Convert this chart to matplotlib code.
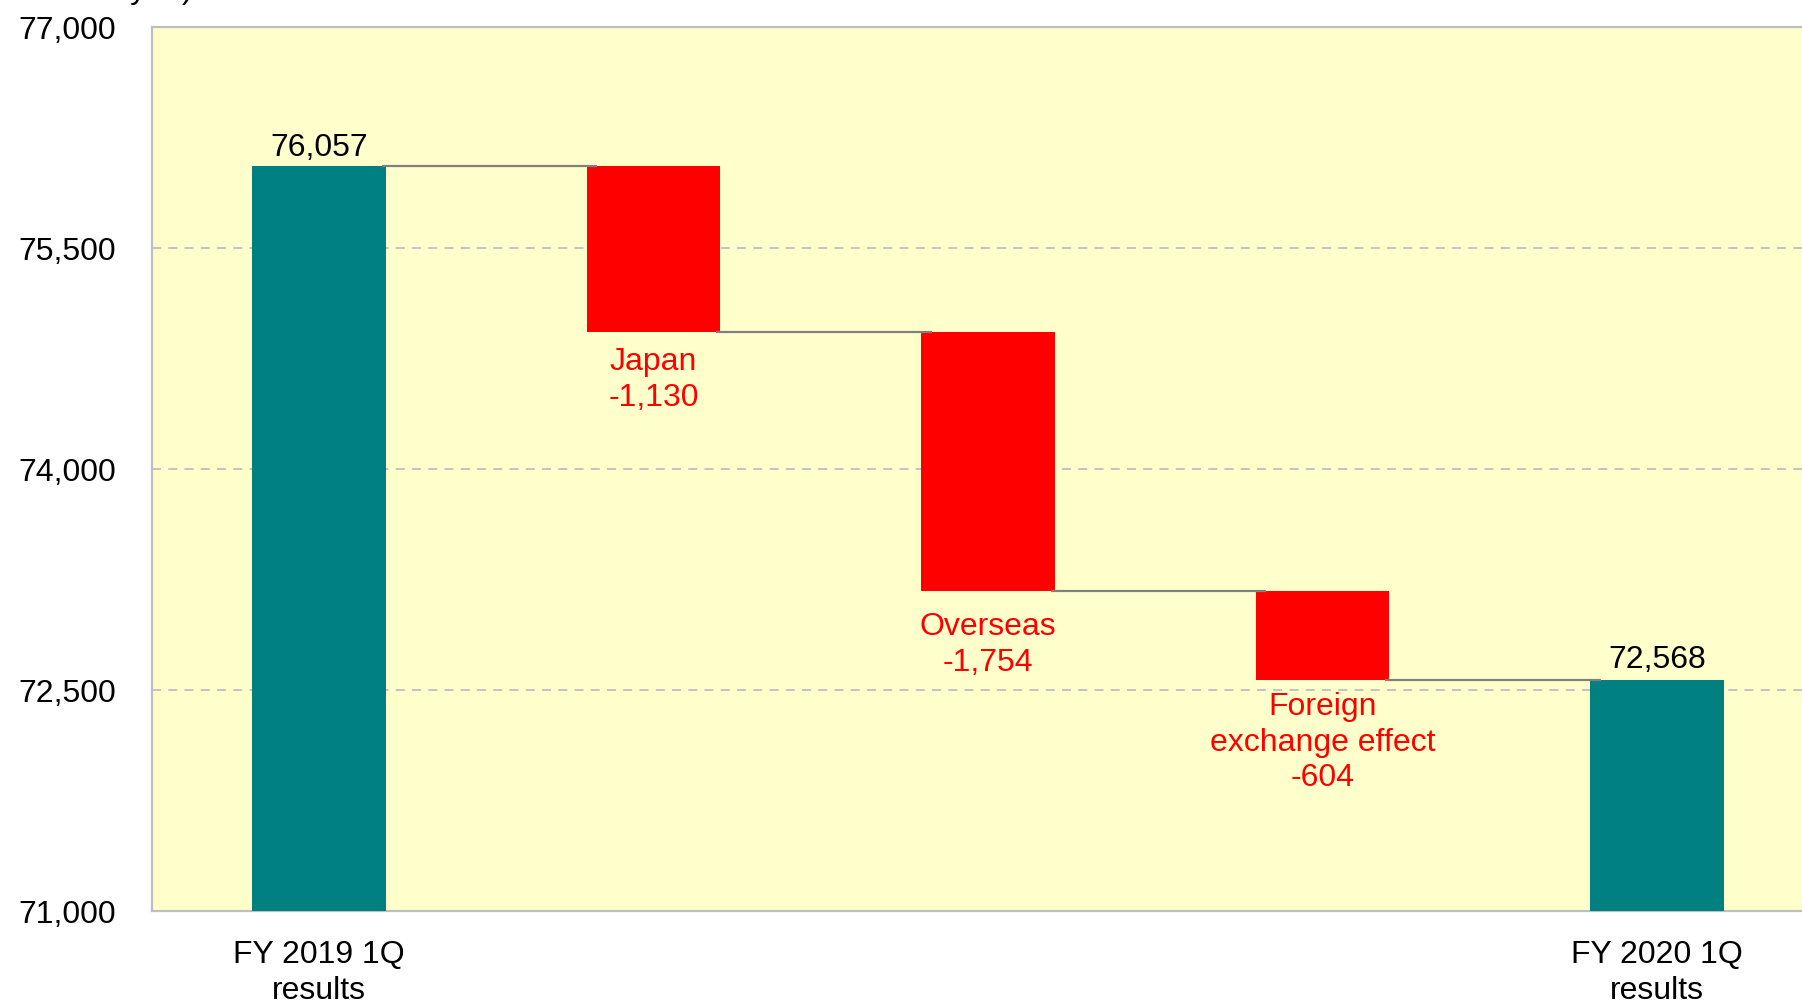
import matplotlib
matplotlib.use("Agg")
import matplotlib.pyplot as plt
import numpy as np

plt.rcParams['font.family'] = ['Liberation Sans', 'DejaVu Sans']

categories = ["FY 2019 1Q\nresults", "", "", "", "FY 2020 1Q\nresults"]
start_value = 76057
changes = [-1130, -1754, -604]
change_names = ["Japan", "Overseas", "Foreign\nexchange effect"]
end_value = 72568
yticks = [71000, 72500, 74000, 75500, 77000]

teal = "#008080"
red = "#FF0000"
label_gaps = [10, 14.5, 8]  # points below each red bar

fig = plt.figure(figsize=(18.02, 10.04), dpi=100)
ax = fig.add_axes([152 / 1802, 92 / 1004, 1672 / 1802, 884 / 1004])
ax.set_facecolor("#FFFFCC")

x = np.arange(len(categories))
w = 0.4

# totals
ax.bar(x[0], start_value - 71000, bottom=71000, width=w, color=teal, zorder=3)
ax.bar(x[-1], end_value - 71000, bottom=71000, width=w, color=teal, zorder=3)
ax.annotate(f"{start_value:,}", (x[0], start_value), xytext=(0, 3),
            textcoords="offset points", ha="center", va="bottom", fontsize=23)
ax.annotate(f"{end_value:,}", (x[-1], end_value), xytext=(0, 4),
            textcoords="offset points", ha="center", va="bottom", fontsize=23)

# steps
level = start_value
levels = [start_value]
for i, (c, name) in enumerate(zip(changes, change_names)):
    xi = x[i + 1]
    ax.bar(xi, -c, bottom=level + c, width=w, color=red, zorder=3)
    ax.annotate(f"{name}\n{c:,}", (xi, level + c), xytext=(0, -label_gaps[i]),
                textcoords="offset points", ha="center", va="top",
                fontsize=23, color=red, linespacing=1.25)
    level += c
    levels.append(level)

# connectors
for i, lv in enumerate(levels):
    ax.plot([x[i] + 0.187, x[i + 1] - 0.168], [lv, lv], color="#808080",
            lw=1.6, zorder=4, solid_capstyle="butt")

ax.set_xlim(-0.5, 4.5)
ax.set_ylim(71000, 77000)
ax.set_yticks(yticks)
ax.set_yticklabels([f"{v:,}" for v in yticks])
ax.set_xticks(x)
ax.set_xticklabels(categories, linespacing=1.25)
ax.tick_params(axis="y", length=0, pad=26, labelsize=23)
ax.tick_params(axis="x", length=0, pad=20, labelsize=23)
ax.grid(axis="y", color="#BFBFBF", linestyle=(0, (5, 4)), lw=1.3, zorder=1)
for s in ax.spines.values():
    s.set_color("#BFBFBF")
    s.set_linewidth(1.6)

fig.text(193 / 1802, 1 + 2 / 1004, "(Unit: million yen)", ha="right", va="baseline", fontsize=23)

fig.savefig("out.png", dpi=100)
